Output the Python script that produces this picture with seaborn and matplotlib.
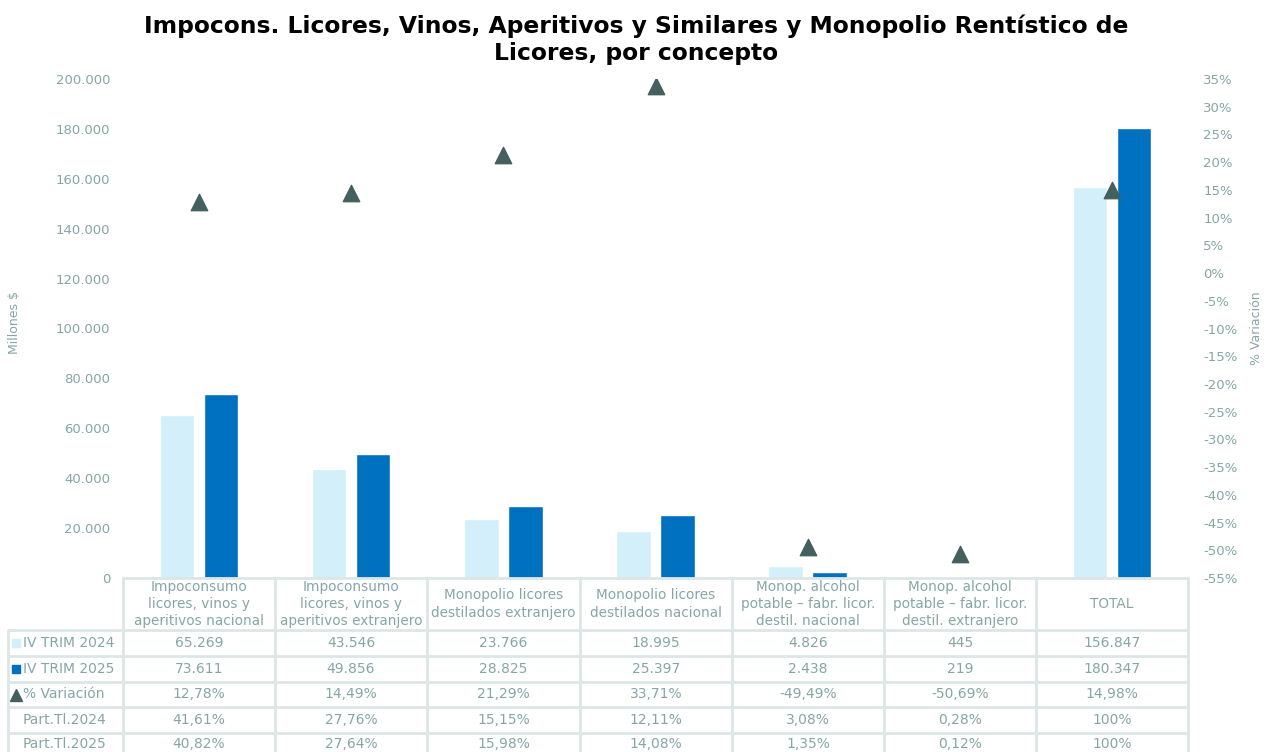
import matplotlib
matplotlib.use("Agg")
import matplotlib.pyplot as plt
from matplotlib.lines import Line2D
from matplotlib.patches import Rectangle
import numpy as np
import pandas as pd
import seaborn as sns

# data
categorias = ["Impoconsumo\nlicores, vinos y\naperitivos nacional",
              "Impoconsumo\nlicores, vinos y\naperitivos extranjero",
              "Monopolio licores\ndestilados extranjero",
              "Monopolio licores\ndestilados nacional",
              "Monop. alcohol\npotable \u2013 fabr. licor.\ndestil. nacional",
              "Monop. alcohol\npotable \u2013 fabr. licor.\ndestil. extranjero",
              "TOTAL"]
trim_2024 = [65269, 43546, 23766, 18995, 4826, 445, 156847]
trim_2025 = [73611, 49856, 28825, 25397, 2438, 219, 180347]
variacion = [12.78, 14.49, 21.29, 33.71, -49.49, -50.69, 14.98]
part_2024 = [41.61, 27.76, 15.15, 12.11, 3.08, 0.28, 100]
part_2025 = [40.82, 27.64, 15.98, 14.08, 1.35, 0.12, 100]
series = ["IV TRIM 2024", "IV TRIM 2025"]

c_light = "#d2effa"
c_dark = "#0070c0"
c_tri = "#44605e"
c_txt = "#86a6a6"
c_grid = "#dde6e6"

W, H = 1272, 752
fig = plt.figure(figsize=(W / 100, H / 100), dpi=100)
sns.set_style("white")
plt.rcParams["font.family"] = ["DejaVu Sans"]

def fx(x):
    return x / W

def fy(y):
    return 1 - y / H

ax = fig.add_axes([fx(123), fy(578), fx(1188) - fx(123), fy(79) - fy(578)])

df = pd.DataFrame({
    "cat": categorias * 2,
    "serie": [series[0]] * 7 + [series[1]] * 7,
    "valor": trim_2024 + trim_2025,
})
sns.barplot(data=df, x="cat", y="valor", hue="serie", palette=[c_light, c_dark],
            width=0.58, gap=0.22, legend=False, ax=ax, saturation=1)
ax.set_xlim(-0.5, 6.5)
ax.set_ylim(0, 200000)
ax.set_yticks(np.arange(0, 200001, 20000))
ax.set_yticklabels([f"{int(v):,}".replace(",", ".") for v in np.arange(0, 200001, 20000)],
                   color=c_txt, fontsize=9.5)
ax.set_xticks([])
ax.set_xlabel("")
ax.set_ylabel("")
ax.tick_params(axis="y", length=0, pad=9)
for s in ax.spines.values():
    s.set_visible(False)

ax2 = ax.twinx()
sns.scatterplot(x=np.arange(7), y=variacion, marker="^", s=140, color=c_tri,
                edgecolor=c_tri, ax=ax2, zorder=5)
ax2.set_ylim(-55, 35)
pt = np.arange(-55, 36, 5)
ax2.set_yticks(pt)
ax2.set_yticklabels([f"{v}%" for v in pt], color=c_txt, fontsize=9.5)
ax2.tick_params(axis="y", length=0, pad=11)
ax2.set_xlim(-0.5, 6.5)
for s in ax2.spines.values():
    s.set_visible(False)

fig.text(fx(15), fy(323), "Millones $", rotation=90, ha="center", va="center",
         color=c_txt, fontsize=9)
fig.text(fx(1256), fy(328), "% Variación", rotation=90, ha="center", va="center",
         color=c_txt, fontsize=9)

fig.text(0.5, fy(40), "Impocons. Licores, Vinos, Aperitivos y Similares y Monopolio Rentístico de\nLicores, por concepto",
         ha="center", va="center", fontsize=16.8, fontweight="bold", color="black",
         linespacing=1.2)

# table
cols = [123, 275, 427, 580, 732, 884, 1036, 1188]
rows = [578, 630, 656, 682, 707, 733, 758]

def hline(y, x0, x1):
    fig.add_artist(Line2D([fx(x0), fx(x1)], [fy(y), fy(y)], color=c_grid, lw=2))

def vline(x, y0, y1):
    fig.add_artist(Line2D([fx(x), fx(x)], [fy(y0), fy(y1)], color=c_grid, lw=2))

hline(578, 123, 1188)
for y in rows[1:-1]:
    hline(y, 8, 1188)
for x in cols:
    vline(x, 578, 752)
vline(8, 630, 752)

for i, c in enumerate(categorias):
    cx = (cols[i] + cols[i + 1]) / 2
    fig.text(fx(cx), fy(604), c, ha="center", va="center", color=c_txt,
             fontsize=9.8, linespacing=1.3)

fmt_num = lambda v: f"{v:,}".replace(",", ".")
fmt_pct = lambda v: "100%" if v == 100 else f"{v:.2f}%".replace(".", ",")
tabla = [
    ("IV TRIM 2024", [fmt_num(v) for v in trim_2024]),
    ("IV TRIM 2025", [fmt_num(v) for v in trim_2025]),
    ("% Variación", [fmt_pct(v) for v in variacion]),
    ("Part.Tl.2024", [fmt_pct(v) for v in part_2024]),
    ("Part.Tl.2025", [fmt_pct(v) for v in part_2025]),
]
for r, (lab, vals) in enumerate(tabla):
    cy = (rows[r + 1] + rows[r + 2]) / 2
    if r == 4:
        cy = 744
    if r < 3:
        fig.text(fx(23), fy(cy), lab, ha="left", va="center", color=c_txt, fontsize=10)
    else:
        fig.text(fx(64), fy(cy), lab, ha="center", va="center", color=c_txt, fontsize=10)
    for i, v in enumerate(vals):
        cx = (cols[i] + cols[i + 1]) / 2
        fig.text(fx(cx), fy(cy), v, ha="center", va="center", color=c_txt, fontsize=10)

# legend keys in table
for r, col in [(0, c_light), (1, c_dark)]:
    cy = (rows[r + 1] + rows[r + 2]) / 2
    fig.add_artist(Rectangle((fx(12), fy(cy + 4)), fx(8), fy(0) - fy(8), color=col,
                             transform=fig.transFigure))
cy = (rows[3] + rows[4]) / 2
fig.add_artist(Line2D([fx(16)], [fy(cy)], marker="^", markersize=8, color=c_tri,
                      transform=fig.transFigure))

fig.savefig("out.png", dpi=100)
